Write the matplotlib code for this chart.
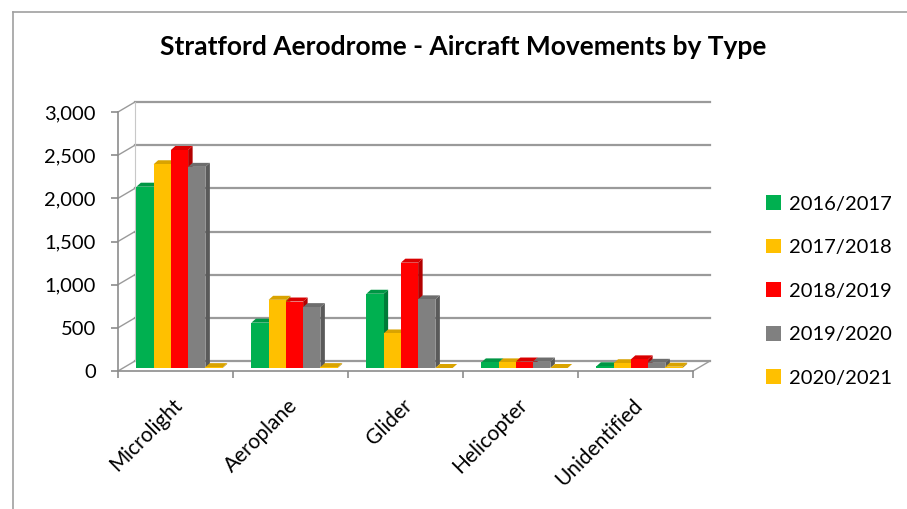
import matplotlib
matplotlib.use("Agg")
import matplotlib.pyplot as plt
import matplotlib.transforms as mtransforms
import matplotlib.colors as mc
from matplotlib.patches import Polygon, Rectangle
from matplotlib.lines import Line2D

categories = ["Microlight", "Aeroplane", "Glider", "Helicopter", "Unidentified"]
series_names = ["2016/2017", "2017/2018", "2018/2019", "2019/2020", "2020/2021"]
v_1617 = [2100, 525, 860, 65, 20]
v_1718 = [2360, 790, 400, 65, 55]
v_1819 = [2525, 770, 1220, 75, 100]
v_1920 = [2330, 705, 795, 75, 60]
v_2021 = [10, 10, 0, 0, 15]
series_values = [v_1617, v_1718, v_1819, v_1920, v_2021]
colors = ["#00B050", "#FFC000", "#FF0000", "#808080", "#FFC000"]
yticks = [0, 500, 1000, 1500, 2000, 2500, 3000]
ytick_labels = ["0", "500", "1,000", "1,500", "2,000", "2,500", "3,000"]

plt.rcParams['font.family'] = ['Lato', 'DejaVu Sans']

W, H = 907, 509
fig = plt.figure(figsize=(W / 100, H / 100), dpi=100)
ax = fig.add_axes([118 / W, (H - 371) / H, (693 - 118) / W, (371 - 112) / H])
ax.set_xlim(-0.5, 4.5)
ax.set_ylim(0, 3000)
for s in ["top", "right"]:
    ax.spines[s].set_visible(False)
for s in ["left", "bottom"]:
    ax.spines[s].set_color("#8c8c8c")
    ax.spines[s].set_linewidth(1.2)

# back wall gridlines (3D offset)
grid_off = ax.transData + mtransforms.ScaledTranslation(17 / 100, 10 / 100, fig.dpi_scale_trans)
for v in yticks:
    ax.add_line(Line2D([-0.5, 4.5], [v, v], transform=grid_off, color="#9a9a9a", lw=1.6, clip_on=False, zorder=1))
    ax.add_line(Line2D([-0.5, -0.5 + 17 / 115], [v, v + 10 * 3000 / 259], color="#9a9a9a", lw=1.0, clip_on=False, zorder=1))
ax.add_line(Line2D([4.5, 4.5 + 17 / 115], [0, 10 * 3000 / 259], color="#9a9a9a", lw=1.0, clip_on=False, zorder=1))
ax.add_line(Line2D([-0.5 + 17 / 115, -0.5 + 17 / 115], [10 * 3000 / 259, 3000 + 10 * 3000 / 259],
                   color="#c8c8c8", lw=0.8, clip_on=False, zorder=1))

bar_w = 0.15
px_x = 115.0
px_y = 259.0 / 3000
dep_x, dep_y = 4.5 / px_x, 4.0 / px_y
bar_off = mtransforms.ScaledTranslation(4 / 100, 3 / 100, fig.dpi_scale_trans)


def shade(c, f):
    r, g, b = mc.to_rgb(c)
    return (r * f, g * f, b * f)


for i, (vals, col) in enumerate(zip(series_values, colors)):
    for j, v in enumerate(vals):
        x0 = j + (i - 2) * bar_w - bar_w / 2
        tr = ax.transData + bar_off
        side = Polygon([[x0 + bar_w, 0], [x0 + bar_w + dep_x, dep_y], [x0 + bar_w + dep_x, v + dep_y], [x0 + bar_w, v]],
                       closed=True, facecolor=shade(col, 0.7), edgecolor="none", transform=tr, clip_on=False, zorder=3 + i)
        top = Polygon([[x0, v], [x0 + dep_x, v + dep_y], [x0 + bar_w + dep_x, v + dep_y], [x0 + bar_w, v]],
                      closed=True, facecolor=shade(col, 0.85), edgecolor="none", transform=tr, clip_on=False, zorder=3 + i)
        front = Rectangle((x0, 0), bar_w, v, facecolor=col, edgecolor="none", transform=tr, clip_on=False, zorder=3 + i)
        ax.add_patch(side)
        ax.add_patch(top)
        ax.add_patch(front)

ax.set_yticks(yticks)
ax.set_yticklabels(ytick_labels, fontsize=14.5)
ax.set_xticks([-0.5, 0.5, 1.5, 2.5, 3.5, 4.5])
ax.set_xticklabels([])
ax.tick_params(axis="both", colors="#8c8c8c", length=5, width=1.2, labelcolor="black")
ax.tick_params(axis="y", pad=11)
for j, c in enumerate(categories):
    ax.text(j - 0.03, -280, c, rotation=45, ha="right", va="top", rotation_mode="anchor", fontsize=15)

fig.text(463 / W, 1 - 47 / H, "Stratford Aerodrome - Aircraft Movements by Type", ha="center", va="center",
         fontsize=19, fontweight="bold")

handles = [Rectangle((0, 0), 1, 1, facecolor=c) for c in colors]
fig.legend(handles, series_names, loc="center left", bbox_to_anchor=(748 / W, 1 - 291 / H), frameon=False,
           fontsize=14.5, handlelength=0.75, handleheight=0.75, labelspacing=1.3, handletextpad=0.4)

fig.add_artist(Line2D([13 / W, 13 / W], [0, 1 - 12 / H], transform=fig.transFigure, color="#a0a0a0", lw=1.2))
fig.add_artist(Line2D([13 / W, 1], [1 - 12 / H, 1 - 12 / H], transform=fig.transFigure, color="#a0a0a0", lw=1.2))

fig.savefig("out.png", dpi=100)
